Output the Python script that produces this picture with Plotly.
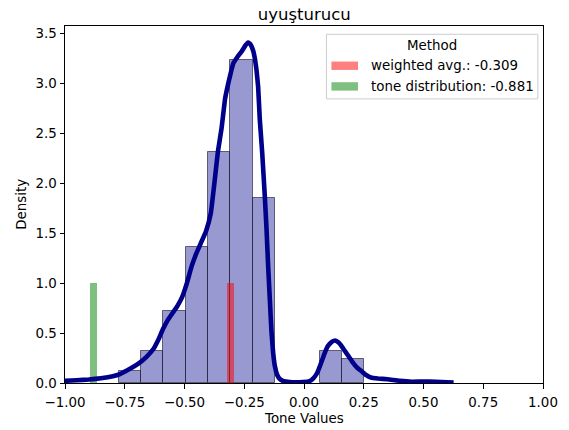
import plotly.graph_objects as go

# Histogram of tone values (density-normalised), equal-width bins
bin_left = [-0.775, -0.6816, -0.5882, -0.4948, -0.4014, -0.308, -0.2146, 0.0656, 0.159]
bin_density = [0.123, 0.323, 0.723, 1.363, 2.313, 3.237, 1.851, 0.316, 0.243]
bin_width = 0.0934

# Kernel density estimate of the same tone values
kde_x = [-1.00, -0.95, -0.90, -0.85, -0.80, -0.77, -0.73, -0.69, -0.66, -0.63,
         -0.61, -0.59, -0.57, -0.55, -0.53, -0.51, -0.49, -0.47, -0.45, -0.43,
         -0.41, -0.39, -0.375, -0.36, -0.345, -0.33, -0.317, -0.303, -0.296, -0.28,
         -0.261, -0.245, -0.234, -0.224, -0.213, -0.205, -0.199, -0.192, -0.185, -0.175,
         -0.164, -0.157, -0.15, -0.143, -0.136, -0.129, -0.122, -0.112, -0.101, -0.085,
         -0.06, -0.02, 0.02, 0.04, 0.055, 0.07, 0.085, 0.10, 0.115, 0.13,
         0.145, 0.16, 0.18, 0.20, 0.22, 0.24, 0.26, 0.28, 0.31, 0.35,
         0.40, 0.45, 0.50, 0.55, 0.60, 0.626]
kde_y = [0.022, 0.028, 0.035, 0.048, 0.068, 0.09, 0.14, 0.20, 0.26, 0.34,
         0.43, 0.54, 0.63, 0.70, 0.77, 0.86, 1.00, 1.17, 1.30, 1.41,
         1.52, 1.70, 2.00, 2.32, 2.55, 2.85, 3.00, 3.14, 3.20, 3.26,
         3.32, 3.38, 3.41, 3.39, 3.33, 3.24, 3.14, 2.97, 2.64, 2.31,
         1.87, 1.55, 1.17, 0.84, 0.51, 0.30, 0.17, 0.08, 0.04, 0.018,
         0.01, 0.008, 0.015, 0.05, 0.10, 0.19, 0.29, 0.37, 0.41, 0.425,
         0.405, 0.36, 0.29, 0.22, 0.16, 0.12, 0.08, 0.055, 0.045, 0.038,
         0.022, 0.013, 0.015, 0.012, 0.008, 0.005]

# Summary markers
method_names = ["weighted avg.", "tone distribution"]
method_values = [-0.309, -0.881]
method_colors = ["rgba(255,0,0,0.5)", "rgba(0,128,0,0.5)"]
marker_height = 1.0
marker_width = 0.028

title_text = "uyuşturucu"
x_ticks = [-1.0, -0.75, -0.5, -0.25, 0.0, 0.25, 0.5, 0.75, 1.0]
y_ticks = [0.0, 0.5, 1.0, 1.5, 2.0, 2.5, 3.0, 3.5]

W, H = 569, 430
ML, MR, MT, MB = 65, 25.5, 26, 46.5
FONT = "DejaVu Sans"
FS = 13.4


def px(xp):
    return (xp - ML) / (W - ML - MR)


def py(yp):
    return (H - MB - yp) / (H - MT - MB)


fig = go.Figure()

fig.add_trace(go.Bar(
    x=[l + bin_width / 2 for l in bin_left],
    y=bin_density,
    width=[bin_width] * len(bin_left),
    marker=dict(color="rgba(0,0,139,0.4)",
                line=dict(color="rgba(30,30,50,0.65)", width=1)),
    showlegend=False, hoverinfo="skip",
))

for v, c in zip(method_values, method_colors):
    fig.add_trace(go.Bar(
        x=[v], y=[marker_height], width=[marker_width],
        marker=dict(color=c, line=dict(width=0)),
        showlegend=False, hoverinfo="skip",
    ))

fig.add_trace(go.Scatter(
    x=kde_x, y=kde_y, mode="lines",
    line=dict(color="#00008B", width=4.6, shape="spline", smoothing=0.3),
    showlegend=False, hoverinfo="skip",
))

axis_common = dict(
    showline=True, linecolor="black", linewidth=1, mirror=True,
    ticks="outside", ticklen=4.5, tickwidth=1, tickcolor="black",
    showgrid=False, zeroline=False,
    tickfont=dict(family=FONT, size=FS, color="black"),
)

fig.update_xaxes(
    range=[-1, 1], tickvals=x_ticks,
    ticktext=[f"{t:.2f}".replace("-", "\u2212") for t in x_ticks],
    ticklabelstandoff=2,
    **axis_common,
)
fig.update_yaxes(
    range=[0, 3.575], tickvals=y_ticks,
    ticktext=[f"{t:.1f}" for t in y_ticks],
    **axis_common,
)

annotations = [
    dict(text="Tone Values", x=0.5, y=py(419), xref="paper", yref="paper",
         showarrow=False, xanchor="center", yanchor="middle",
         font=dict(family=FONT, size=FS, color="black")),
    dict(text="Density", x=px(22), y=py(205), xref="paper", yref="paper",
         showarrow=False, xanchor="center", yanchor="middle", textangle=-90,
         font=dict(family=FONT, size=FS, color="black")),
    dict(text="Method", x=px(432), y=py(45.5), xref="paper", yref="paper",
         showarrow=False, xanchor="center", yanchor="middle",
         font=dict(family=FONT, size=FS, color="black")),
]

shapes = [
    dict(type="rect", xref="paper", yref="paper",
         x0=px(326.7), x1=px(538.3), y0=py(99), y1=py(34.3),
         line=dict(color="#cccccc", width=1), fillcolor="rgba(255,255,255,0.8)",
         layer="above"),
]

entry_y = [65.8, 86.5]
for name, v, c, yc in zip(method_names, method_values, method_colors, entry_y):
    shapes.append(dict(type="rect", xref="paper", yref="paper",
                       x0=px(331.7), x1=px(358.3), y0=py(yc + 4.2), y1=py(yc - 4.2),
                       line=dict(width=0), fillcolor=c, layer="above"))
    annotations.append(dict(
        text=f"{name}: {v:.3f}", x=px(369.5), y=py(yc), xref="paper", yref="paper",
        showarrow=False, xanchor="left", yanchor="middle",
        font=dict(family=FONT, size=FS, color="black")))

fig.update_layout(
    width=W, height=H,
    margin=dict(l=ML, r=MR, t=MT, b=MB, pad=0),
    paper_bgcolor="white", plot_bgcolor="white",
    barmode="overlay", bargap=0,
    title=dict(text=title_text, x=px(304.5), xref="paper", xanchor="center",
               y=1 - 14 / H, yref="container", yanchor="middle",
               font=dict(family=FONT, size=16.5, color="black")),
    annotations=annotations,
    shapes=shapes,
    showlegend=False,
)

fig.write_html("out.html")
